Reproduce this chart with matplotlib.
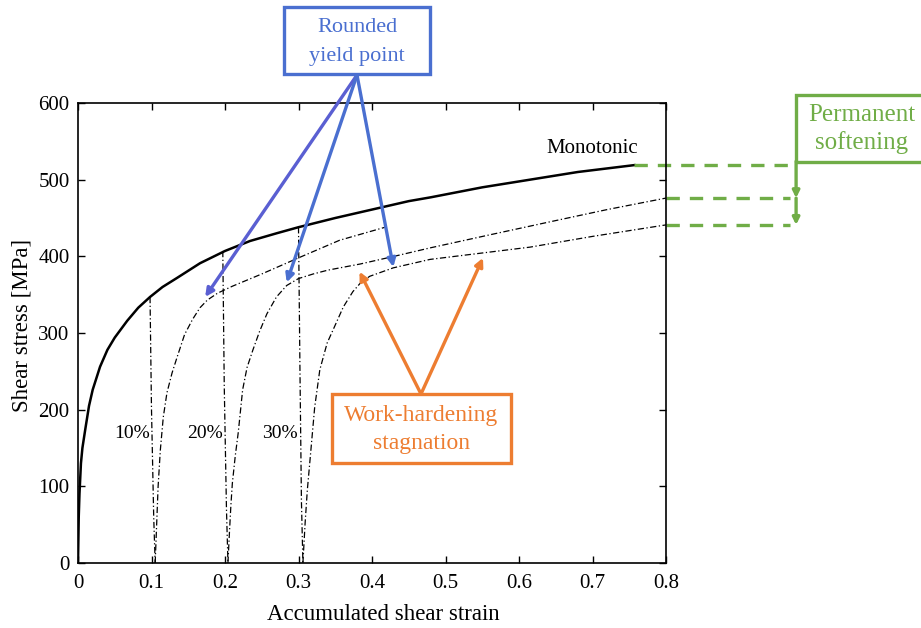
import numpy as np
import matplotlib
matplotlib.use("Agg")
import matplotlib.pyplot as plt
from matplotlib.patches import Rectangle

plt.rcParams['font.family'] = ['Liberation Serif', 'DejaVu Serif']

# monotonic shear test
mono_strain = [0, 0.001, 0.002, 0.004, 0.006, 0.01, 0.015, 0.02, 0.03, 0.04, 0.05, 0.067,
               0.082, 0.098, 0.115, 0.135, 0.166, 0.2, 0.234, 0.27, 0.3, 0.35, 0.4,
               0.45, 0.48, 0.55, 0.615, 0.68, 0.757]
mono_stress = [0, 60, 90, 130, 150, 175, 205, 226, 256, 278, 294, 316,
               333, 347, 360, 372, 391, 407, 420, 430, 438, 450, 461,
               472, 477, 490, 500, 510, 519]

# unloading after prestrain
unload10_strain = [0.098, 0.100, 0.103, 0.105]
unload10_stress = [347, 200, 60, 0]
unload20_strain = [0.197, 0.199, 0.202, 0.204]
unload20_stress = [407, 230, 70, 0]
unload30_strain = [0.300, 0.302, 0.304, 0.306]
unload30_stress = [438, 250, 80, 0]

# reloading after 10 %, 20 %, 30 % prestrain
reload10_strain = [0.105, 0.107, 0.109, 0.112, 0.116, 0.121, 0.128, 0.135, 0.145, 0.156,
                   0.166, 0.176, 0.19, 0.21, 0.25, 0.3, 0.356, 0.418]
reload10_stress = [0, 50, 100, 147, 190, 222, 248, 269, 298, 318,
                   333, 343, 352, 361, 377, 398, 421, 438]
reload20_strain = [0.204, 0.206, 0.208, 0.21, 0.214, 0.218, 0.224, 0.23, 0.238, 0.247,
                   0.257, 0.27, 0.284, 0.3, 0.32, 0.34, 0.384, 0.43, 0.479, 0.56,
                   0.642, 0.72, 0.8]
reload20_stress = [0, 39, 75, 104, 140, 170, 226, 255, 278, 302,
                   325, 347, 362, 371, 377, 382, 390, 400, 411, 428,
                   445, 461, 476]
reload30_strain = [0.306, 0.309, 0.312, 0.316, 0.322, 0.329, 0.339, 0.347, 0.361, 0.374,
                   0.385, 0.397, 0.429, 0.479, 0.547, 0.615, 0.7, 0.8]
reload30_stress = [0, 52, 95, 138, 203, 252, 287, 304, 334, 354,
                   366, 374, 385, 396, 404, 412, 426, 441]

prestrain_labels = ["10%", "20%", "30%"]
prestrain_label_x = [0.073, 0.173, 0.275]

xticks = [0, 0.1, 0.2, 0.3, 0.4, 0.5, 0.6, 0.7, 0.8]
xticklabels = ["0", "0.1", "0.2", "0.3", "0.4", "0.5", "0.6", "0.7", "0.8"]
yticks = [0, 100, 200, 300, 400, 500, 600]

W, H = 921, 628
BLUE = "#4a6fd0"
ORANGE = "#ed7d31"
GREEN = "#70ad47"


def fig_xy(px, py):
    # pixel position measured from the top-left corner -> figure fraction
    return px / W, 1 - py / H


fig = plt.figure(figsize=(W / 100, H / 100), dpi=100)
ax = fig.add_axes([78 / W, 1 - 563 / H, (666 - 78) / W, (563 - 103) / H])

dd = dict(color="black", lw=0.9, dashes=(5, 2, 1, 2))
ax.plot(mono_strain, mono_stress, color="black", lw=1.8)
ax.plot(unload10_strain, unload10_stress, **dd)
ax.plot(unload20_strain, unload20_stress, **dd)
ax.plot(unload30_strain, unload30_stress, **dd)
ax.plot(reload10_strain, reload10_stress, **dd)
ax.plot(reload20_strain, reload20_stress, **dd)
ax.plot(reload30_strain, reload30_stress, **dd)

for lab, x in zip(prestrain_labels, prestrain_label_x):
    ax.text(x, 169, lab, ha="center", va="center", fontsize=14)
ax.text(0.70, 541, "Monotonic", ha="center", va="center", fontsize=15)

ax.set_xlim(0, 0.8)
ax.set_ylim(0, 600)
ax.set_xticks(xticks)
ax.set_xticklabels(xticklabels)
ax.set_yticks(yticks)
ax.tick_params(direction="in", top=True, right=True, length=5, width=1,
               labelsize=15)
ax.tick_params(axis="x", pad=8)
ax.tick_params(axis="y", pad=6)
for s in ax.spines.values():
    s.set_linewidth(1.2)
ax.set_xlabel("Accumulated shear strain", fontsize=16.5, va="center")
ax.set_ylabel("Shear stress [MPa]", fontsize=16.5, va="center")
ax.xaxis.set_label_coords(0.52, -0.113)
ax.yaxis.set_label_coords(-0.095, 0.517)

# annotation boxes


def box(x0, y0, x1, y1, color):
    fx, fy = fig_xy(x0, y1)
    fig.patches.append(Rectangle((fx, fy), (x1 - x0) / W, (y1 - y0) / H,
                                 transform=fig.transFigure, fill=False,
                                 edgecolor=color, lw=2.4, clip_on=False))


def arrow(start_px, tip, color, scale=12):
    ax.annotate("", xy=tip, xycoords="data",
                xytext=fig_xy(*start_px), textcoords="figure fraction",
                arrowprops=dict(arrowstyle="-|>", color=color, lw=2.4,
                                mutation_scale=scale, shrinkA=0, shrinkB=0),
                annotation_clip=False)


box(284, 7, 430, 74, BLUE)
fig.text(*fig_xy(357, 28), "Rounded", color=BLUE, fontsize=16, ha="center", va="center")
fig.text(*fig_xy(357, 56), "yield point", color=BLUE, fontsize=16, ha="center", va="center")
arrow((357, 75), (0.173, 347), "#5a5fd2")
arrow((357, 75), (0.284, 366), BLUE)
arrow((357, 75), (0.429, 386), BLUE)

box(332, 394, 511, 463, ORANGE)
fig.text(*fig_xy(421, 415), "Work-hardening", color=ORANGE, fontsize=17, ha="center", va="center")
fig.text(*fig_xy(421, 443), "stagnation", color=ORANGE, fontsize=17, ha="center", va="center")
arrow((421, 394), (0.383, 380), ORANGE)
arrow((421, 394), (0.551, 398), ORANGE)

box(796, 95, 930, 162, GREEN)
fig.text(*fig_xy(862, 115), "Permanent", color=GREEN, fontsize=18, ha="center", va="center")
fig.text(*fig_xy(862, 143), "softening", color=GREEN, fontsize=18, ha="center", va="center")

# softening levels carried out to the right
gx = 0.977
ax.plot([mono_strain[-1], gx], [mono_stress[-1], mono_stress[-1]], color=GREEN,
        lw=2.4, dashes=(4, 3), clip_on=False)
ax.plot([reload20_strain[-1], gx - 0.008], [reload20_stress[-1]] * 2, color=GREEN,
        lw=2.4, dashes=(4, 3), clip_on=False)
ax.plot([reload30_strain[-1], gx - 0.008], [reload30_stress[-1]] * 2, color=GREEN,
        lw=2.4, dashes=(4, 3), clip_on=False)
for y0, y1 in [(524, reload20_stress[-1]), (reload20_stress[-1], reload30_stress[-1])]:
    ax.annotate("", xy=(gx, y1), xytext=(gx, y0),
                arrowprops=dict(arrowstyle="-|>", color=GREEN, lw=2.4,
                                mutation_scale=10, shrinkA=0, shrinkB=0),
                annotation_clip=False)

fig.savefig("out.png", dpi=100)
